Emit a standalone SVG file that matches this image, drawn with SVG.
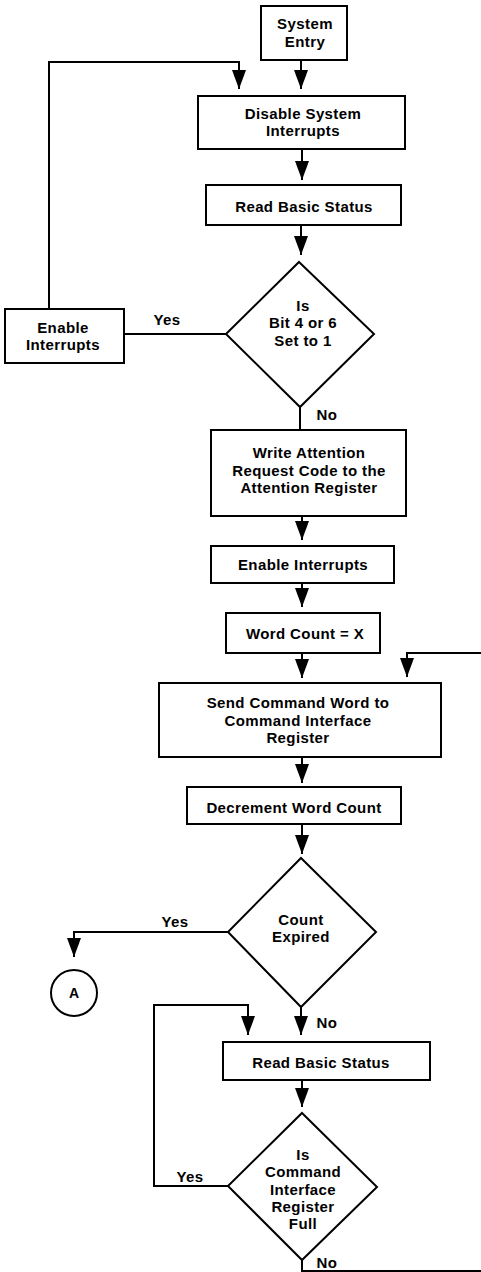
<svg xmlns="http://www.w3.org/2000/svg" width="481" height="1272" viewBox="0 0 481 1272">
<style>
.box{fill:#fff;stroke:#000;stroke-width:2}
.ln{fill:none;stroke:#000;stroke-width:2}
text{font-family:"Liberation Sans",Arial,Helvetica,sans-serif;font-weight:bold;font-size:15px;letter-spacing:0.4px;fill:#000;text-anchor:middle}
</style>
<defs>
<marker id="ah" viewBox="0 0 19 14" refX="19" refY="7" markerWidth="19" markerHeight="14" markerUnits="userSpaceOnUse" orient="auto">
<path d="M0,0 L19,7 L0,14 Z" fill="#000"/>
</marker>
</defs>
<rect width="481" height="1272" fill="#fff"/>
<g id="connectors">
<path class="ln" d="M301,60 V89" marker-end="url(#ah)"/>
<path class="ln" d="M49,309 V62 H239 V89" marker-end="url(#ah)"/>
<path class="ln" d="M302,149 V180" marker-end="url(#ah)"/>
<path class="ln" d="M301,225 V255" marker-end="url(#ah)"/>
<path class="ln" d="M226,334 H124"/>
<path class="ln" d="M300,407 V430"/>
<path class="ln" d="M302,516 V540" marker-end="url(#ah)"/>
<path class="ln" d="M302,583 V607" marker-end="url(#ah)"/>
<path class="ln" d="M302,653 V678" marker-end="url(#ah)"/>
<path class="ln" d="M481,653 H407 V677" marker-end="url(#ah)"/>
<path class="ln" d="M302,757 V783" marker-end="url(#ah)"/>
<path class="ln" d="M302,824 V854" marker-end="url(#ah)"/>
<path class="ln" d="M228,932 H74 V957" marker-end="url(#ah)"/>
<path class="ln" d="M301,1007 V1035" marker-end="url(#ah)"/>
<path class="ln" d="M228,1186 H154 V1005 H248 V1035" marker-end="url(#ah)"/>
<path class="ln" d="M302,1080 V1107" marker-end="url(#ah)"/>
<path class="ln" d="M302,1260 V1271 H481"/>
<text x="167" y="325">Yes</text>
<text x="327" y="420">No</text>
<text x="175" y="927">Yes</text>
<text x="327" y="1028">No</text>
<text x="190" y="1182">Yes</text>
<text x="327" y="1268">No</text>
</g>
<g id="system-entry">
<rect class="box" x="261" y="6" width="86" height="54"/>
<text x="305" y="29">System</text>
<text x="305" y="47">Entry</text>
</g>
<g id="disable-interrupts">
<rect class="box" x="198" y="96" width="207" height="53"/>
<text x="303" y="119">Disable System</text>
<text x="303" y="136">Interrupts</text>
</g>
<g id="read-status-1">
<rect class="box" x="206" y="185" width="195" height="40"/>
<text x="304" y="212">Read Basic Status</text>
</g>
<g id="decision-bit">
<polygon class="box" points="299,262 374,334 300,407 226,334"/>
<text x="303" y="311">Is</text>
<text x="303" y="328">Bit 4 or 6</text>
<text x="303" y="346">Set to 1</text>
</g>
<g id="enable-interrupts-left">
<rect class="box" x="5" y="309" width="119" height="54"/>
<text x="63" y="333">Enable</text>
<text x="63" y="350">Interrupts</text>
</g>
<g id="write-attention">
<rect class="box" x="211" y="430" width="195" height="86"/>
<text x="309" y="458">Write Attention</text>
<text x="309" y="476">Request Code to the</text>
<text x="309" y="493">Attention Register</text>
</g>
<g id="enable-interrupts">
<rect class="box" x="211" y="546" width="183" height="37"/>
<text x="303" y="570">Enable Interrupts</text>
</g>
<g id="word-count">
<rect class="box" x="226" y="613" width="154" height="40"/>
<text x="305" y="639">Word Count = X</text>
</g>
<g id="send-command">
<rect class="box" x="159" y="683" width="282" height="74"/>
<text x="298" y="708">Send Command Word to</text>
<text x="298" y="726">Command Interface</text>
<text x="298" y="743">Register</text>
</g>
<g id="decrement">
<rect class="box" x="187" y="787" width="214" height="37"/>
<text x="294" y="813">Decrement Word Count</text>
</g>
<g id="decision-count">
<polygon class="box" points="301,858 376,932 301,1007 228,932"/>
<text x="301" y="925">Count</text>
<text x="301" y="942">Expired</text>
</g>
<g id="connector-a">
<circle class="box" cx="74" cy="993" r="23"/>
<text x="74" y="998" style="font-size:14px;letter-spacing:0">A</text>
</g>
<g id="read-status-2">
<rect class="box" x="223" y="1042" width="207" height="38"/>
<text x="321" y="1068">Read Basic Status</text>
</g>
<g id="decision-full">
<polygon class="box" points="302,1113 377,1187 302,1260 228,1186"/>
<text x="303" y="1160">Is</text>
<text x="303" y="1177">Command</text>
<text x="303" y="1195">Interface</text>
<text x="303" y="1212">Register</text>
<text x="303" y="1229">Full</text>
</g>
</svg>
